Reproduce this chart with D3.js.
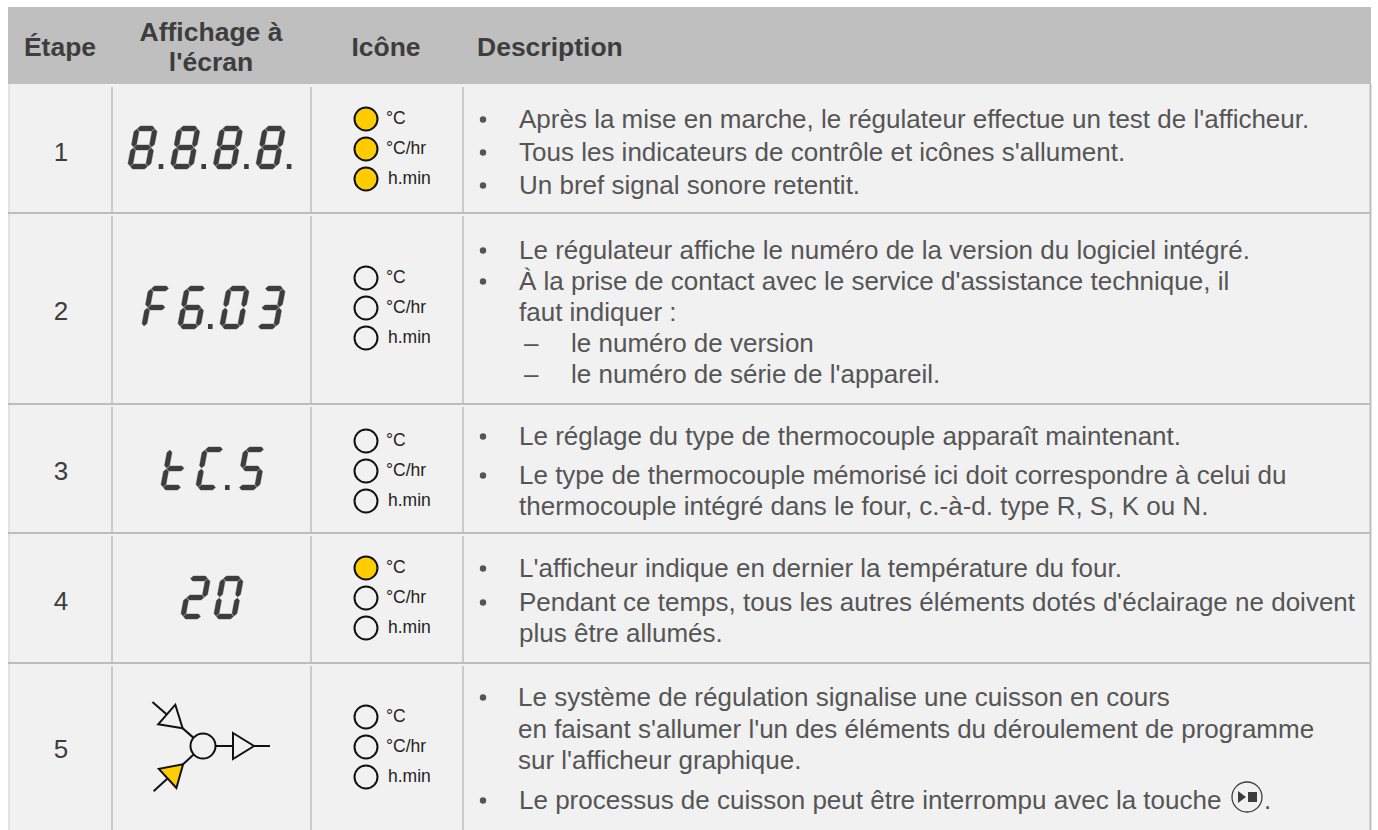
<!DOCTYPE html>
<html>
<head>
<meta charset="utf-8">
<script src="https://cdn.jsdelivr.net/npm/d3@7"></script>
<style>
  html, body { margin: 0; padding: 0; background: #fff; }
  svg { display: block; }
  text { font-family: "Liberation Sans", Arimo, Helvetica, sans-serif; }
</style>
</head>
<body>
<div id="my_table"></div>
<script>
// table content
const headers = ["Étape", ["Affichage à", "l'écran"], "Icône", "Description"];
const steps = ["1", "2", "3", "4", "5"];
const displays = ["8.8.8.8.", "F6.03", "tC.S", "20", null];
const iconLabels = ["°C", "°C/hr", "h.min"];
const iconsLit = [[1, 1, 1], [0, 0, 0], [0, 0, 0], [1, 0, 0], [0, 0, 0]];
// kind: b = bullet, c = continuation, d = dash
const descriptions = [
  [["b", "Après la mise en marche, le régulateur effectue un test de l'afficheur."],
   ["b", "Tous les indicateurs de contrôle et icônes s'allument."],
   ["b", "Un bref signal sonore retentit."]],
  [["b", "Le régulateur affiche le numéro de la version du logiciel intégré."],
   ["b", "À la prise de contact avec le service d'assistance technique, il"],
   ["c", "faut indiquer :"],
   ["d", "le numéro de version"],
   ["d", "le numéro de série de l'appareil."]],
  [["b", "Le réglage du type de thermocouple apparaît maintenant."],
   ["b", "Le type de thermocouple mémorisé ici doit correspondre à celui du"],
   ["c", "thermocouple intégré dans le four, c.-à-d. type R, S, K ou N."]],
  [["b", "L'afficheur indique en dernier la température du four."],
   ["b", "Pendant ce temps, tous les autres éléments dotés d'éclairage ne doivent"],
   ["c", "plus être allumés."]],
  [["b", "Le système de régulation signalise une cuisson en cours"],
   ["c", "en faisant s'allumer l'un des éléments du déroulement de programme"],
   ["c", "sur l'afficheur graphique."],
   ["b", "Le processus de cuisson peut être interrompu avec la touche"]]
];
// flow symbol of step 5: arm angle in degrees, flow direction, lit
const armAngles = [-139, 137.5, 0];
const armInward = [true, true, false];
const armLit = [false, true, false];

// layout
const width = 1378, height = 830;
const table = {left: 8, right: 1371, top: 7, head: 84};
const rowBottoms = [213, 404, 533, 663, 840];
const columnLines = [112, 311, 463];
const stepY = [152, 311, 471, 601, 749];
const digitTop = [126, 286, 447, 576];
const digitStart = [127, 141, 160, 180];
const digitPitch = [36.7, 36, 35, 33];
const iconY = [149, 308, 471, 598, 747];
const lineY = [[119, 152, 185], [250, 281, 312, 343, 374], [436, 475, 506], [568, 602, 633], [697, 729, 760, 800]];
const textSize = 26, textColor = "#555", darkText = "#3d3d3d";
const lineColor = "#bdbdbd", yellow = "#ffcc00";

const svg = d3.select("#my_table")
  .append("svg")
  .attr("width", width)
  .attr("height", height);

// backgrounds
svg.append("rect").attr("x", table.left).attr("y", table.head)
  .attr("width", table.right - table.left).attr("height", height - table.head)
  .style("fill", "#f1f1f1");
svg.append("rect").attr("x", table.left).attr("y", table.top)
  .attr("width", table.right - table.left).attr("height", table.head - table.top)
  .style("fill", "#bfbfbf");

// outer edges and row rules
svg.append("line").attr("x1", table.left + 1).attr("x2", table.left + 1)
  .attr("y1", table.head).attr("y2", height)
  .style("stroke", "#dcdcdc").style("stroke-width", 1.5);
svg.append("line").attr("x1", table.right - 0.5).attr("x2", table.right - 0.5)
  .attr("y1", table.head).attr("y2", height)
  .style("stroke", lineColor).style("stroke-width", 2);
svg.selectAll(".rowRule")
  .data(rowBottoms.slice(0, 4))
  .join("line")
  .attr("class", "rowRule")
  .attr("x1", table.left).attr("x2", table.right)
  .attr("y1", d => d).attr("y2", d => d)
  .style("stroke", lineColor).style("stroke-width", 1.8);

// column rules, slightly short of the row rule above them
const rowTops = [table.head].concat(rowBottoms.slice(0, 4));
columnLines.forEach(x => {
  rowTops.forEach((top, i) => {
    svg.append("line")
      .attr("x1", x).attr("x2", x)
      .attr("y1", top + 3).attr("y2", Math.min(rowBottoms[i], height))
      .style("stroke", lineColor).style("stroke-width", 1.5);
  });
});

// header
function headerText(str, x, y, anchor) {
  svg.append("text").text(str)
    .attr("x", x).attr("y", y)
    .attr("text-anchor", anchor)
    .style("font-size", "26.5px").style("font-weight", 700)
    .style("fill", darkText);
}
headerText(headers[0], 60, 56, "middle");
headerText(headers[1][0], 211, 41, "middle");
headerText(headers[1][1], 211, 71, "middle");
headerText(headers[2], 386, 56, "middle");
headerText(headers[3], 477, 56, "start");

// step numbers
svg.selectAll(".step")
  .data(steps)
  .join("text")
  .attr("class", "step")
  .attr("x", 61)
  .attr("y", (d, i) => stepY[i] + 9)
  .attr("text-anchor", "middle")
  .style("font-size", "26px")
  .style("fill", darkText)
  .text(d => d);

// seven segment displays
const segW = 23, segH = 43, segT = 5;
const skew = 0.186;
const segOn = {
  "8": "abcdefg", "F": "aefg", "6": "acdefg", "0": "abcdef", "3": "abcdg",
  "t": "defg", "C": "adef", "S": "acdfg", "2": "abdeg"
};
const xl = segT / 2, xr = segW - segT / 2;
const yt = segT / 2, ym = segH / 2, yb = segH - segT / 2;
const segEnds = {
  a: [[xl, yt], [xr, yt]], g: [[xl, ym], [xr, ym]], d: [[xl, yb], [xr, yb]],
  f: [[xl, yt], [xl, ym]], b: [[xr, yt], [xr, ym]],
  e: [[xl, ym], [xl, yb]], c: [[xr, ym], [xr, yb]]
};
const polyLine = d3.line().curve(d3.curveLinearClosed);

function segmentPoints(name) {
  const [p0, p1] = segEnds[name];
  const horizontal = p0[1] === p1[1];
  const h = segT / 2, gap = 0.5;
  const pts = horizontal
    ? [[p0[0] + gap, p0[1]], [p0[0] + gap + h, p0[1] - h], [p1[0] - gap - h, p1[1] - h],
       [p1[0] - gap, p1[1]], [p1[0] - gap - h, p1[1] + h], [p0[0] + gap + h, p0[1] + h]]
    : [[p0[0], p0[1] + gap], [p0[0] + h, p0[1] + gap + h], [p1[0] + h, p1[1] - gap - h],
       [p1[0], p1[1] - gap], [p1[0] - h, p1[1] - gap - h], [p0[0] - h, p0[1] + gap + h]];
  return pts.map(p => [p[0] + (segH - p[1]) * skew, p[1]]);
}

displays.forEach((str, row) => {
  if (!str) return;
  let x = digitStart[row];
  const g = svg.append("g").attr("class", "display");
  str.split("").forEach(ch => {
    if (ch === ".") {
      g.append("rect")
        .attr("x", x - 5).attr("y", digitTop[row] + segH - 5)
        .attr("width", 4.6).attr("height", 5)
        .style("fill", darkText);
      x += 6;
      return;
    }
    const cell = g.append("g").attr("transform", `translate(${x},${digitTop[row]})`);
    cell.selectAll("path")
      .data(segOn[ch].split(""))
      .join("path")
      .attr("d", d => polyLine(segmentPoints(d)))
      .style("fill", darkText)
      .style("stroke", darkText)
      .style("stroke-width", 0.4)
      .style("stroke-linejoin", "round");
    x += digitPitch[row];
  });
});

// flow symbol of step 5
const flow = svg.append("g")
  .attr("transform", `translate(203,${iconY[4] - 1})`)
  .style("stroke", "#111").style("stroke-width", 2);
armAngles.forEach((a, i) => {
  const arm = flow.append("g").attr("transform", `rotate(${a})`);
  const inner = armInward[i] ? [27, 48] : [30, 51];
  arm.append("line").attr("x1", 12).attr("x2", 67).attr("y1", 0).attr("y2", 0);
  arm.append("path")
    .attr("d", armInward[i]
      ? polyLine([[inner[0], 0], [inner[1], -13], [inner[1], 13]])
      : polyLine([[inner[0], -13], [inner[1], 0], [inner[0], 13]]))
    .style("fill", armLit[i] ? yellow : "#f1f1f1");
});
flow.append("circle").attr("r", 12.5).style("fill", "#f1f1f1");

// indicator lamps
const lampStep = 30;
iconsLit.forEach((lit, row) => {
  const g = svg.append("g").attr("transform", `translate(366,${iconY[row]})`);
  g.selectAll("circle")
    .data(lit)
    .join("circle")
    .attr("cy", (d, i) => (i - 1) * lampStep)
    .attr("r", 11.5)
    .style("fill", d => d ? yellow : "none")
    .style("stroke", "#111")
    .style("stroke-width", 2);
  g.selectAll("text")
    .data(iconLabels)
    .join("text")
    .attr("x", (d, i) => i === 2 ? 22 : 20)
    .attr("y", (d, i) => (i - 1) * lampStep + 5)
    .style("font-size", "17.5px")
    .style("fill", "#222")
    .text(d => d);
});

// description text
descriptions.forEach((lines, row) => {
  lines.forEach((line, i) => {
    const y = lineY[row][i] + 8.5;
    const x = line[0] === "d" ? 571 : (row === 4 && i < 3 ? 518 : 519);
    if (line[0] === "b") {
      svg.append("circle").attr("cx", 483).attr("cy", y - 8).attr("r", 3.2)
        .style("fill", textColor);
    }
    if (line[0] === "d") {
      svg.append("text").text("–").attr("x", 524).attr("y", y)
        .style("font-size", textSize + "px").style("fill", textColor);
    }
    svg.append("text").text(line[1])
      .attr("x", x).attr("y", y)
      .style("font-size", textSize + "px")
      .style("fill", textColor);
  });
});

// play / stop key at the end of the last line
const key = svg.append("g").attr("transform", "translate(1247,797)");
key.append("circle").attr("r", 15)
  .style("fill", "none").style("stroke", darkText).style("stroke-width", 1.3);
key.append("path").attr("d", polyLine([[-9, -6], [-1, 0], [-9, 6]])).style("fill", darkText);
key.append("rect").attr("x", 1).attr("y", -5).attr("width", 9).attr("height", 10).style("fill", darkText);
svg.append("text").text(".").attr("x", 1264).attr("y", 808.5)
  .style("font-size", textSize + "px").style("fill", textColor);
</script>
</body>
</html>
